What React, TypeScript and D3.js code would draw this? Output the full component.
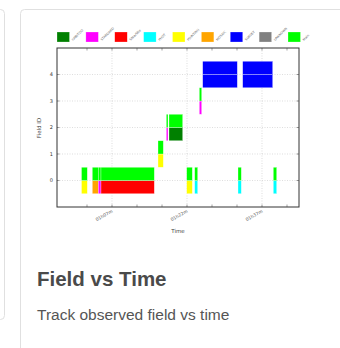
import React, { useEffect, useRef } from 'react';
import * as d3 from 'd3';

// legend categories (labels are tiny/rotated in the source)
const categories = ['GRB/TOO', 'STANDARD', 'SNIa/SNe', 'PHOT', 'POINTING', 'MOSAIC', 'SURVEY', 'UNKNOWN', 'Main'];
const catColors = ['#008000', '#ff00ff', '#ff0000', '#00ffff', '#ffff00', '#ffa500', '#0000ff', '#808080', '#00ff00'];

// observations: field, start / end (minutes after 00h00m), lower + upper category
const obsField = [0, 0, 0, 0, 1, 2, 2, 0, 0, 3, 4, 0, 4, 0];
const obsStart = [60.9, 63.06, 64.26, 64.8, 76.2, 77.86, 78.4, 81.94, 83.54, 84.46, 85.14, 92.2, 93.14, 99.26];
const obsEnd = [62.06, 64.26, 64.8, 75.46, 77.26, 78.2, 81.14, 83.06, 84.14, 84.94, 92.06, 92.86, 99.14, 99.94];
const obsLower = [4, 5, 1, 2, 4, 1, 0, 4, 3, 1, 6, 3, 6, 3];
const obsUpper = [8, 8, 8, 8, 8, 8, 8, 8, 8, 8, 6, 8, 6, 8];

const yTicks = [0, 1, 2, 3, 4];
const xMinorTicks = [62, 67, 72, 77, 82, 87, 92, 97, 102];
const xLabelTicks = [67, 82, 97];
const fmtTime = (m: number) => `${String(Math.floor(m / 60)).padStart(2, '0')}h${String(m % 60).padStart(2, '0')}m`;

export default function App() {
  const ref = useRef<SVGSVGElement>(null);

  useEffect(() => {
    if (!ref.current) return;
    const svg = d3.select(ref.current);
    svg.selectAll('*').remove();

    // cards
    svg.append('rect').attr('x', -20).attr('y', 9.5).attr('width', 24.5).attr('height', 310)
      .attr('rx', 4).attr('fill', '#fff').attr('stroke', '#e0e0e0');
    svg.append('rect').attr('x', 20.5).attr('y', 9.5).attr('width', 400).attr('height', 400)
      .attr('rx', 4).attr('fill', '#fff').attr('stroke', '#e0e0e0');

    const left = 57, right = 299, top = 48, bottom = 207;
    const x = d3.scaleLinear().domain([56, 104.4]).range([left, right]);
    const y = d3.scaleLinear().domain([-1, 5]).range([bottom, top]);

    const g = svg.append('g');

    // grid
    g.selectAll('.hg').data(yTicks).join('line')
      .attr('x1', left).attr('x2', right).attr('y1', d => y(d)).attr('y2', d => y(d))
      .attr('stroke', '#c8c8c8').attr('stroke-width', 0.6).attr('stroke-dasharray', '1,1.5');
    g.selectAll('.vg').data(xLabelTicks).join('line')
      .attr('y1', top).attr('y2', bottom).attr('x1', d => x(d)).attr('x2', d => x(d))
      .attr('stroke', '#c8c8c8').attr('stroke-width', 0.6).attr('stroke-dasharray', '1,1.5');

    // bars: lower half + upper half
    const idx = d3.range(obsField.length);
    g.selectAll('.lo').data(idx).join('rect')
      .attr('x', i => x(obsStart[i])).attr('width', i => x(obsEnd[i]) - x(obsStart[i]))
      .attr('y', i => y(obsField[i])).attr('height', i => y(obsField[i] - 0.5) - y(obsField[i]))
      .attr('fill', i => catColors[obsLower[i]])
      .attr('stroke', '#fff').attr('stroke-opacity', 0.6).attr('stroke-width', 0.5);
    g.selectAll('.up').data(idx).join('rect')
      .attr('x', i => x(obsStart[i])).attr('width', i => x(obsEnd[i]) - x(obsStart[i]))
      .attr('y', i => y(obsField[i] + 0.5)).attr('height', i => y(obsField[i]) - y(obsField[i] + 0.5))
      .attr('fill', i => catColors[obsUpper[i]])
      .attr('stroke', '#fff').attr('stroke-opacity', 0.6).attr('stroke-width', 0.5);

    // tick marks on all sides
    const tk = 2.5;
    xMinorTicks.forEach(t => {
      g.append('line').attr('x1', x(t)).attr('x2', x(t)).attr('y1', bottom).attr('y2', bottom - tk).attr('stroke', '#444').attr('stroke-width', 0.5);
      g.append('line').attr('x1', x(t)).attr('x2', x(t)).attr('y1', top).attr('y2', top + tk).attr('stroke', '#444').attr('stroke-width', 0.5);
    });
    yTicks.forEach(t => {
      g.append('line').attr('x1', left).attr('x2', left + tk).attr('y1', y(t)).attr('y2', y(t)).attr('stroke', '#444').attr('stroke-width', 0.5);
      g.append('line').attr('x1', right).attr('x2', right - tk).attr('y1', y(t)).attr('y2', y(t)).attr('stroke', '#444').attr('stroke-width', 0.5);
    });

    // frame
    g.append('rect').attr('x', left).attr('y', top).attr('width', right - left).attr('height', bottom - top)
      .attr('fill', 'none').attr('stroke', '#333').attr('stroke-width', 1);

    // tick labels
    g.selectAll('.yl').data(yTicks).join('text')
      .attr('x', left - 4).attr('y', d => y(d)).attr('dy', '0.35em')
      .attr('text-anchor', 'end').attr('font-size', 5).attr('fill', '#333')
      .attr('font-family', 'DejaVu Sans, sans-serif').text(d => d);
    g.selectAll('.xl').data(xLabelTicks).join('text')
      .attr('transform', d => `translate(${x(d) + 1},${bottom + 5}) rotate(-30)`)
      .attr('text-anchor', 'end').attr('font-size', 4.5).attr('fill', '#555')
      .attr('font-family', 'DejaVu Sans, sans-serif').text(d => fmtTime(d));

    // axis titles
    g.append('text').attr('x', 178).attr('y', 233).attr('text-anchor', 'middle')
      .attr('font-size', 5.5).attr('fill', '#444').attr('font-family', 'DejaVu Sans, sans-serif').text('Time');
    g.append('text').attr('transform', `translate(41,128) rotate(-90)`).attr('text-anchor', 'middle')
      .attr('font-size', 5.5).attr('fill', '#444').attr('font-family', 'DejaVu Sans, sans-serif').text('Field ID');

    // legend
    const lx = d3.scalePoint<number>().domain(d3.range(categories.length)).range([57, 288]);
    const leg = g.selectAll('.leg').data(d3.range(categories.length)).join('g')
      .attr('transform', d => `translate(${lx(d)},32)`);
    leg.append('rect').attr('width', 12.5).attr('height', 10).attr('fill', d => catColors[d])
      .attr('stroke', '#fff').attr('stroke-opacity', 0.5).attr('stroke-width', 0.5);
    leg.append('text').attr('transform', 'translate(16,9) rotate(-45)')
      .attr('font-size', 3.2).attr('fill', '#666').attr('font-family', 'DejaVu Sans, sans-serif')
      .text(d => categories[d]);

    // card text
    svg.append('text').attr('x', 37).attr('y', 285.5).attr('font-size', 20.5).attr('font-weight', 'bold')
      .attr('fill', '#4a4a4a').attr('font-family', 'Liberation Sans, Arial, sans-serif').text('Field vs Time');
    svg.append('text').attr('x', 37).attr('y', 320).attr('font-size', 15.5)
      .attr('fill', '#555').attr('font-family', 'Liberation Sans, Arial, sans-serif').text('Track observed field vs time');
  }, []);

  return (
    <div style={{ position: 'fixed', left: 0, top: 0, width: 340, height: 348, background: '#fff' }}>
      <svg ref={ref} width={340} height={348} style={{ display: 'block' }} />
    </div>
  );
}
